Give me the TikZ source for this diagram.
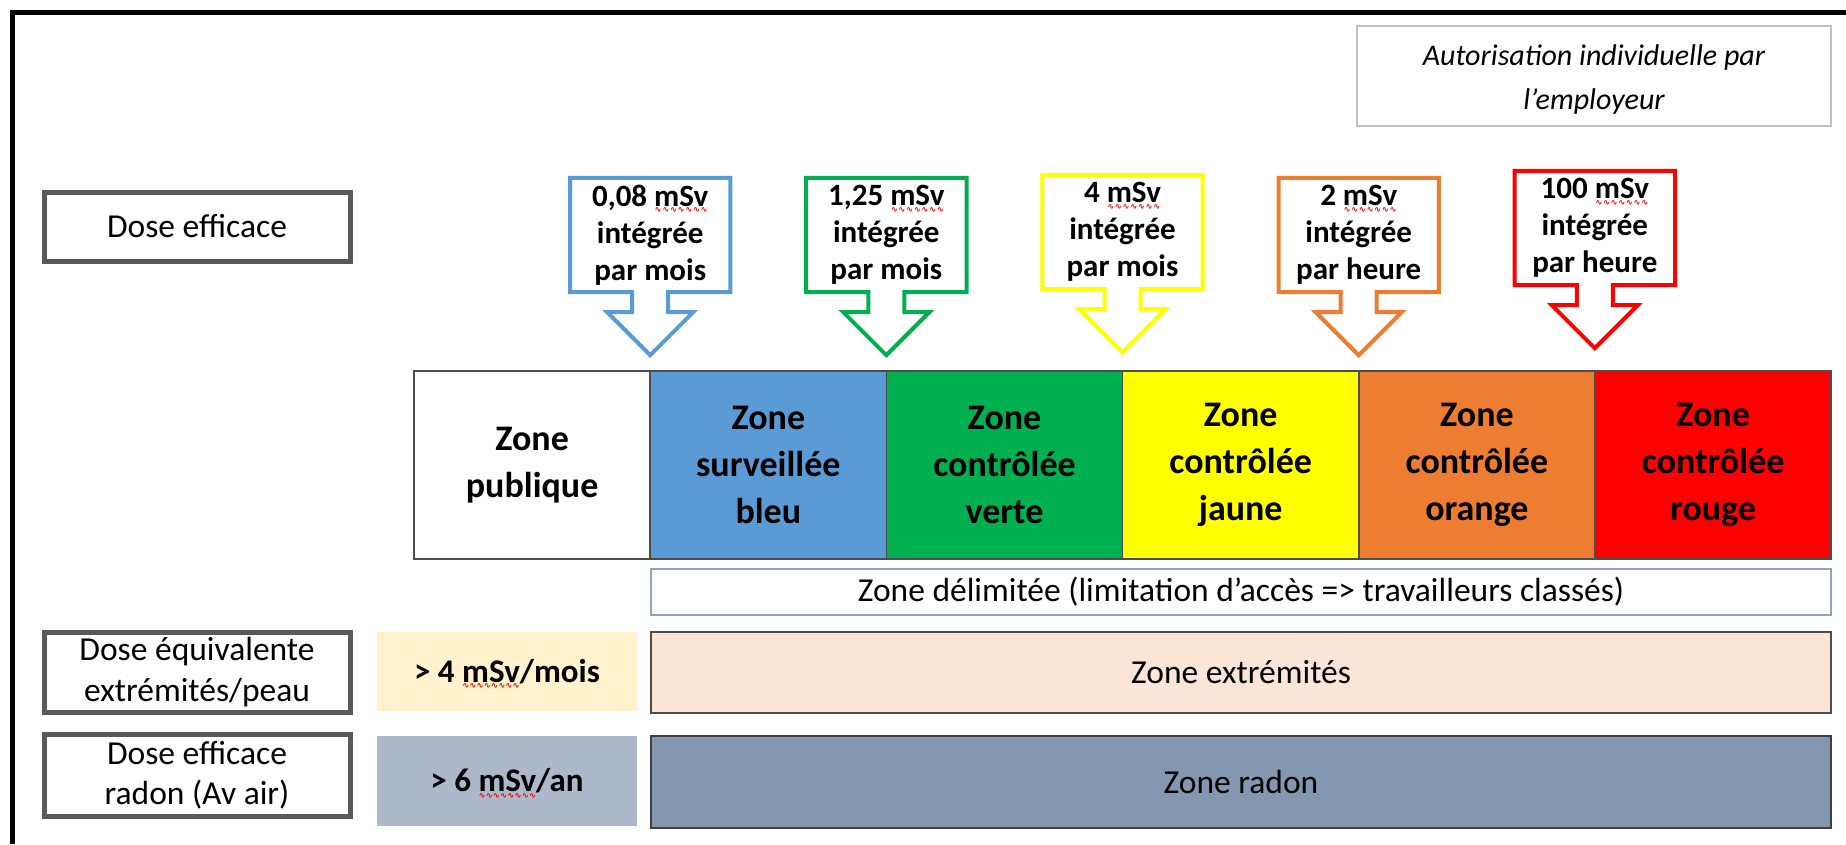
\documentclass[tikz,border=0pt]{standalone}
\usepackage{fontspec}
\setmainfont{Carlito}
\newfontfamily\wavefont{DejaVu Sans}
\usetikzlibrary{calc}
\definecolor{zblue}{RGB}{91,155,213}
\definecolor{zgreen}{RGB}{0,176,80}
\definecolor{zyellow}{RGB}{255,255,0}
\definecolor{zorange}{RGB}{237,125,49}
\definecolor{zred}{RGB}{255,0,0}
\definecolor{boxgray}{RGB}{89,89,89}
\definecolor{edgeblue}{RGB}{143,163,189}
\definecolor{peach}{RGB}{251,229,214}
\definecolor{cream}{RGB}{255,242,204}
\definecolor{slate}{RGB}{132,151,176}
\definecolor{slatelight}{RGB}{173,185,202}
\newsavebox{\msvbox}
\newcommand{\msv}{\sbox{\msvbox}{mSv}\rlap{\usebox{\msvbox}}\smash{\raisebox{-6.5pt}{\textcolor{red}{\hbox to\wd\msvbox{\wavefont\fontsize{8.5}{8.5}\selectfont\xleaders\hbox{∿}\hfil}}}}}

\begin{document}
\begin{tikzpicture}[x=1pt,y=-1pt,
    labelbox/.style={draw=boxgray,line width=5,fill=white,minimum width=306,align=center,inner sep=0,font=\fontsize{33.5}{40.5}\selectfont},
    zone/.style={draw=black!70,line width=1.5,minimum width=236.2,minimum height=188,inner sep=0,align=center,font=\bfseries\fontsize{36}{47}\selectfont},
    band/.style={minimum width=1180,inner sep=0,align=center,font=\fontsize{33.5}{40}\selectfont},
    limitbox/.style={minimum width=260,inner sep=0,font=\bfseries\fontsize{33}{40}\selectfont},
    callout/.style={minimum width=160,minimum height=114,inner sep=0,align=center,font=\bfseries\fontsize{31}{37}\selectfont}]
  \useasboundingbox (0,0) rectangle (1846,844);
  % cadre
  \draw[line width=5] (12,844) -- (12,12) -- (1846,12);
  % autorisation
  \node[draw=black!25,line width=1.5,minimum width=474,minimum height=100,align=center,font=\itshape\fontsize{30}{44}\selectfont] (auto) at (1594,76) {\rule{0pt}{27pt}Autorisation individuelle par\\l’employeur};
  % libelles
  \node[labelbox,minimum height=69] (dose) at (197,226.5) {Dose efficace};
  \node[labelbox,minimum height=80] (equiv) at (197,672) {Dose équivalente\\extrémités/peau};
  \node[labelbox,minimum height=82] (radon) at (197,775) {Dose efficace\\radon (Av air)};
  % zones
  \foreach \clr/\txt [count=\i from 0] in {white/{Zone\\publique},zblue/{Zone\\surveillée\\bleu},zgreen/{Zone\\contrôlée\\verte},zyellow/{Zone\\contrôlée\\jaune},zorange/{Zone\\contrôlée\\orange},zred/{Zone\\contrôlée\\rouge}}
    \node[zone,fill=\clr] (z\i) at ({532.1+\i*236.2},465) {\txt};
  \node[band,draw=edgeblue,line width=1.5,minimum height=46] (delim) at (1241,592) {Zone délimitée (limitation d’accès => travailleurs classés)};
  \node[band,draw=black!70,line width=1.5,fill=peach,minimum height=81] (extr) at (1241,672.5) {Zone extrémités};
  \node[band,draw=black!75,line width=1.5,fill=slate,minimum height=92] (zradon) at (1241,782) {Zone radon};
  \node[limitbox,fill=cream,minimum height=79] (s4) at (507,671.5) {> 4 \msv/mois};
  \node[limitbox,fill=slatelight,minimum height=90] (s6) at (507,781) {> 6 \msv/an};
  % seuils
  \foreach \x/\ytop/\clr/\txt [count=\i] in {650.2/178/zblue/{0,08 \msv\\intégrée\\par mois},886.3/178/zgreen/{1,25 \msv\\intégrée\\par mois},1122.5/175/zyellow/{4 \msv\\intégrée\\par mois},1358.7/178/zorange/{2 \msv\\intégrée\\par heure},1594.8/171/zred/{100 \msv\\intégrée\\par heure}}{
    \node[callout] (c\i) at ({\x},{\ytop+57}) {\txt};
    \draw[\clr,line width=4] (c\i.north west) -- (c\i.north east) -- (c\i.south east) -- ($(c\i.south)+(18,0)$) -- ++(0,20) -- ($(c\i.south)+(43,20)$) -- ($(c\i.south)+(0,63)$) -- ($(c\i.south)+(-43,20)$) -- ($(c\i.south)+(-18,20)$) -- ($(c\i.south)+(-18,0)$) -- (c\i.south west) -- cycle;
  }
\end{tikzpicture}
\end{document}
